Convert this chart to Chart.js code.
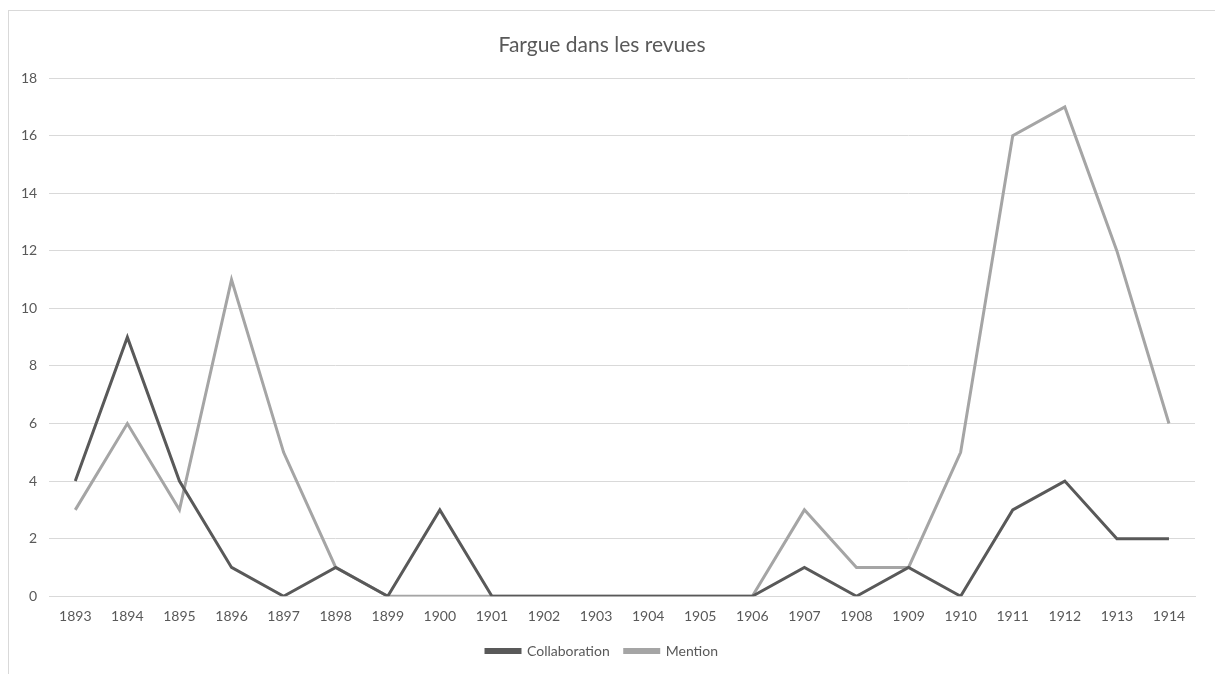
<!DOCTYPE html>
<html>
<head>
<meta charset="utf-8">
<script src="https://cdn.jsdelivr.net/npm/chart.js@4"></script>
<style>
  html, body { margin: 0; padding: 0; background: #fff; overflow: hidden; }
  #frame { position: absolute; left: 8px; top: 10px; width: 1220px; height: 680px; border: 1px solid #d9d9d9; box-sizing: border-box; }
  #wrap { position: absolute; left: 0; top: 0; width: 1215px; height: 674px; }
</style>
</head>
<body>
<div id="frame"></div>
<div id="wrap"><canvas id="mychart"></canvas></div>
<script>
// Données
const annees = ["1893", "1894", "1895", "1896", "1897", "1898", "1899", "1900", "1901", "1902", "1903",
  "1904", "1905", "1906", "1907", "1908", "1909", "1910", "1911", "1912", "1913", "1914"];
const collaboration = [4, 9, 4, 1, 0, 1, 0, 3, 0, 0, 0, 0, 0, 0, 1, 0, 1, 0, 3, 4, 2, 2];
const mention = [3, 6, 3, 11, 5, 1, 0, 0, 0, 0, 0, 0, 0, 0, 3, 1, 1, 5, 16, 17, 12, 6];

const police = "Lato, 'Open Sans', sans-serif";
const gris = "#595959";

const ctx = document.getElementById("mychart").getContext("2d");
const mychart = new Chart(ctx, {
  type: "line",
  data: {
    labels: annees,
    datasets: [
      {
        label: "Collaboration",
        data: collaboration,
        borderColor: "#595959",
        backgroundColor: "#595959",
        borderWidth: 3,
        pointRadius: 0,
        tension: 0,
      },
      {
        label: "Mention",
        data: mention,
        borderColor: "#a5a5a5",
        backgroundColor: "#a5a5a5",
        borderWidth: 3,
        pointRadius: 0,
        tension: 0,
      },
    ],
  },
  options: {
    responsive: true,
    maintainAspectRatio: false,
    animation: false,
    layout: { padding: { left: 9, right: 20, top: 33, bottom: 6 } },
    plugins: {
      title: {
        display: true,
        text: "Fargue dans les revues",
        color: gris,
        font: { family: police, size: 21, weight: "normal" },
        padding: { top: 0, bottom: 20 },
      },
      legend: {
        position: "bottom",
        labels: {
          color: gris,
          font: { family: police, size: 14 },
          boxWidth: 34,
          boxHeight: 3,
          padding: 15,
        },
      },
      tooltip: { enabled: false },
    },
    scales: {
      x: {
        offset: true,
        grid: { display: false },
        border: { color: "#d9d9d9", width: 1 },
        ticks: { color: gris, font: { family: police, size: 14 }, padding: 4, maxRotation: 0 },
      },
      y: {
        min: 0,
        max: 18,
        grid: { color: "#d9d9d9", drawTicks: false },
        border: { display: false },
        ticks: { stepSize: 2, color: gris, font: { family: police, size: 14 }, padding: 12 },
      },
    },
  },
});
</script>
</body>
</html>
